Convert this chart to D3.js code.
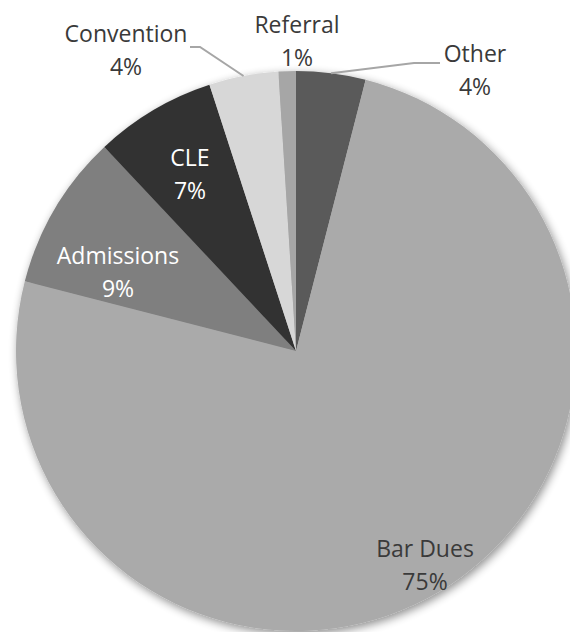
<!DOCTYPE html>
<html>
<head>
<meta charset="utf-8">
<script src="https://cdn.jsdelivr.net/npm/d3@7"></script>
<style>
  html, body { margin: 0; padding: 0; background: #fff; }
  svg { display: block; }
</style>
</head>
<body>
<svg id="chart" width="570" height="632"></svg>
<script>
// Revenue sources, clockwise from twelve o'clock
const categories = ["Other", "Bar Dues", "Admissions", "CLE", "Convention", "Referral"];
const shares = [4, 75, 9, 7, 4, 1];
const sliceColors = ["#5a5a5a", "#aaaaaa", "#7f7f7f", "#333333", "#d7d7d7", "#a6a6a6"];
const labelColors = ["#3a3a3a", "#3a3a3a", "#ffffff", "#ffffff", "#3a3a3a", "#3a3a3a"];

const width = 570, height = 632;
const cx = 296, cy = 351, radius = 280;

const svg = d3.select("#chart");

// soft shadow under the pie
const defs = svg.append("defs");
const f = defs.append("filter").attr("id", "pieShadow")
  .attr("x", "-10%").attr("y", "-10%").attr("width", "120%").attr("height", "120%");
f.append("feGaussianBlur").attr("in", "SourceAlpha").attr("stdDeviation", 5).attr("result", "blur");
f.append("feOffset").attr("in", "blur").attr("dx", 2).attr("dy", 3).attr("result", "off");
f.append("feComponentTransfer").attr("in", "off").attr("result", "shadow")
  .append("feFuncA").attr("type", "linear").attr("slope", 0.45);
const merge = f.append("feMerge");
merge.append("feMergeNode").attr("in", "shadow");
merge.append("feMergeNode").attr("in", "SourceGraphic");

const data = categories.map((c, i) => ({ name: c, value: shares[i], i }));

const pie = d3.pie().value(d => d.value).sort(null);
const arcs = pie(data);
const arc = d3.arc().innerRadius(0).outerRadius(radius);

const g = svg.append("g").attr("transform", `translate(${cx},${cy})`);

g.append("g").attr("filter", "url(#pieShadow)")
  .selectAll("path")
  .data(arcs)
  .join("path")
  .attr("d", arc)
  .attr("fill", d => sliceColors[d.data.i]);

// label anchor points (relative to pie centre): [x, first baseline]
const labelPos = {
  "Other":      [179, -289, "outside"],
  "Bar Dues":   [129, 206, "inside"],
  "Admissions": [-178, -87, "inside"],
  "CLE":        [-106, -185, "inside"],
  "Convention": [-170, -309, "outside"],
  "Referral":   [1, -318, "outside"]
};

// leader lines for the labels placed outside the pie
const edge = d => {
  const a = (d.startAngle + d.endAngle) / 2;
  return [Math.sin(a) * radius, -Math.cos(a) * radius];
};
const leaders = {
  "Other": d => [[144, -288], [118, -288], edge(d)],
  "Convention": d => [[-106, -304], [-96, -304], edge(d)]
};
g.append("g").selectAll("path")
  .data(arcs.filter(d => leaders[d.data.name]))
  .join("path")
  .attr("d", d => d3.line()(leaders[d.data.name](d)))
  .attr("fill", "none")
  .attr("stroke", "#a6a6a6")
  .attr("stroke-width", 2);

const fmt = d3.format(".0%");
const labels = g.append("g")
  .attr("font-family", "'Open Sans', sans-serif")
  .attr("font-size", 23)
  .attr("text-anchor", "middle");

arcs.forEach(d => {
  const [x, y] = labelPos[d.data.name];
  const t = labels.append("text")
    .attr("fill", labelColors[d.data.i]);
  t.append("tspan").attr("x", x).attr("y", y).text(d.data.name);
  t.append("tspan").attr("x", x).attr("y", y + 33).text(fmt(d.data.value / d3.sum(shares)));
});
</script>
</body>
</html>
